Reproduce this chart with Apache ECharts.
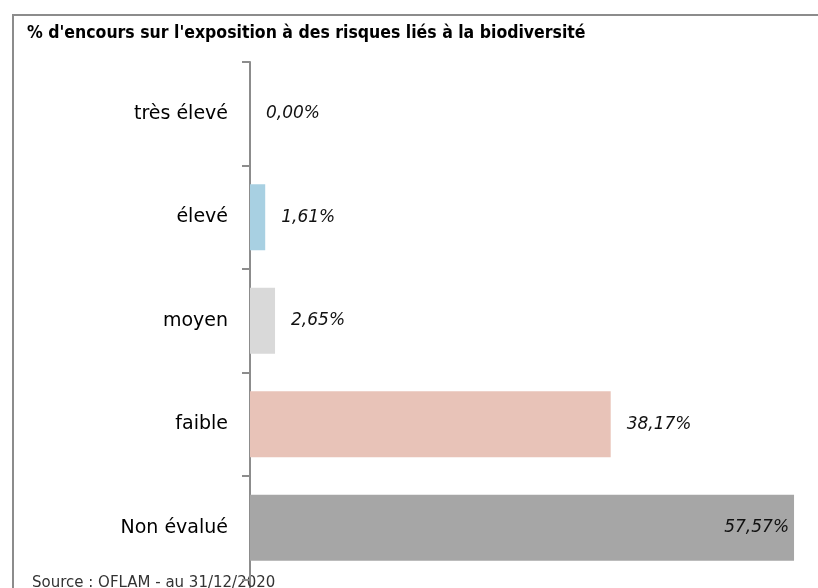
<!DOCTYPE html>
<html><head><meta charset="utf-8">
<script src="https://cdn.jsdelivr.net/npm/echarts@6/dist/echarts.min.js"></script>
<style>html,body{margin:0;padding:0;background:#fff}#c{width:818px;height:588px}</style>
</head><body><div id="c"></div>
<script>
const titleText = "% d'encours sur l'exposition à des risques liés à la biodiversité";
const sourceText = "Source : OFLAM - au 31/12/2020";
const categories = ["très élevé", "élevé", "moyen", "faible", "Non évalué"];
const values = [0.00, 1.61, 2.65, 38.17, 57.57];
const labels = ["0,00%", "1,61%", "2,65%", "38,17%", "57,57%"];
const colors = ["#a8d0e2", "#a8d0e2", "#d9d9d9", "#e8c3b8", "#a6a6a6"];

const chart = echarts.init(document.getElementById('c'), null, {renderer: 'canvas'});
const data = values.map((v, i) => {
  const item = {value: v, itemStyle: {color: colors[i]}};
  if (i === values.length - 1) {
    item.label = {position: 'insideRight', distance: 5};
  }
  return item;
});
chart.setOption({
  animation: false,
  backgroundColor: '#fff',
  grid: {left: 250, right: 1, top: 62, bottom: 8.5, containLabel: false},
  xAxis: {type: 'value', min: 0, max: 60, show: false},
  yAxis: {
    type: 'category', data: categories, inverse: true,
    axisLine: {lineStyle: {color: '#8c8c8c', width: 2}},
    axisTick: {show: true, length: 8, lineStyle: {color: '#8c8c8c', width: 2}},
    axisLabel: {margin: 22, color: '#000', fontFamily: 'DejaVu Sans', fontSize: 19}
  },
  series: [{
    type: 'bar', data: data, barCategoryGap: '36%',
    label: {
      show: true, position: 'right', distance: 16,
      fontFamily: 'DejaVu Sans', fontStyle: 'italic', fontSize: 17, color: '#111',
      formatter: p => labels[p.dataIndex]
    }
  }],
  graphic: [
    {type: 'line', shape: {x1: 12, y1: 15, x2: 818, y2: 15}, style: {stroke: '#8c8c8c', lineWidth: 2}},
    {type: 'line', shape: {x1: 13, y1: 14, x2: 13, y2: 588}, style: {stroke: '#8c8c8c', lineWidth: 2}},
    {type: 'line', shape: {x1: 250, y1: 579, x2: 250, y2: 588}, style: {stroke: '#8c8c8c', lineWidth: 2}},
    {type: 'text', left: 27, top: 24, style: {text: titleText, font: 'bold 17.5px "DejaVu Sans Condensed", "DejaVu Sans"', fill: '#000'}},
    {type: 'text', left: 32, top: 576, style: {text: sourceText, font: '15px "DejaVu Sans"', fill: '#333'}}
  ]
});
</script></body></html>
